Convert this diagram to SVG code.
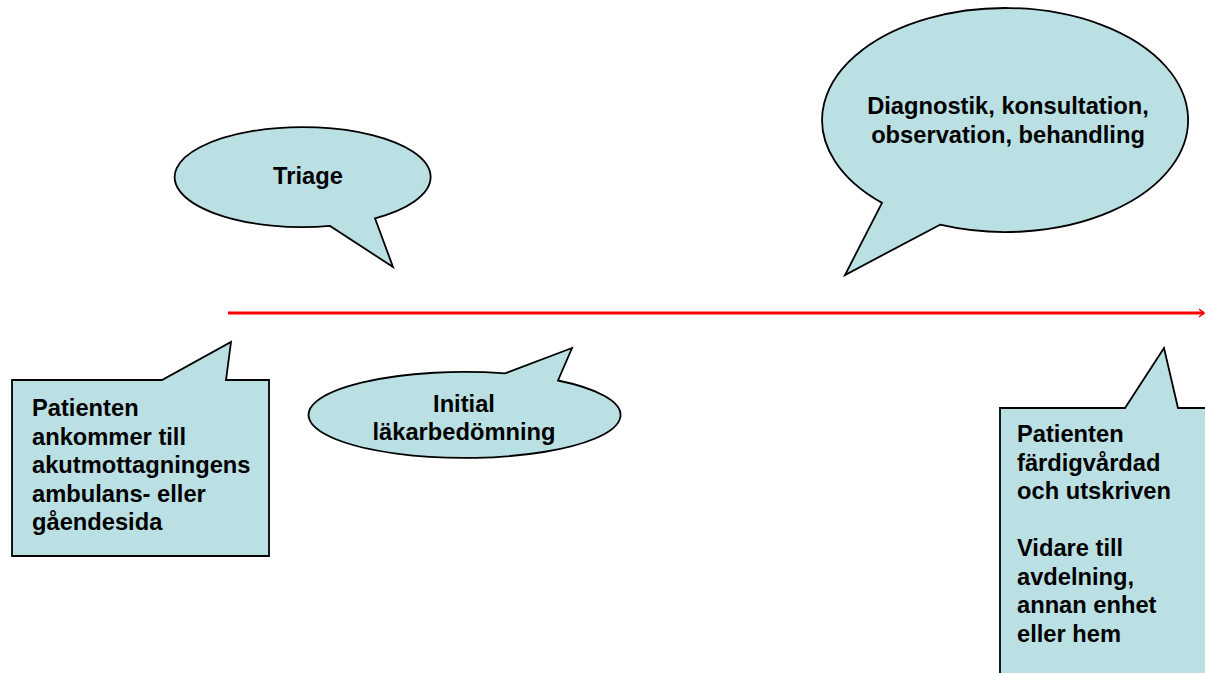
<svg xmlns="http://www.w3.org/2000/svg" width="1205" height="673" viewBox="0 0 1205 673">
<style>
.shape{fill:#BBE0E3;stroke:#000;stroke-width:1.8;stroke-linejoin:miter}
.t{font-family:"Liberation Sans",Arial,sans-serif;font-weight:bold;font-size:23.7px;fill:#000}
.c{text-anchor:middle}
</style>
<rect width="1205" height="673" fill="#fff"/>
<g id="connectors">
<line x1="228" y1="313" x2="1204" y2="313" stroke="#f00" stroke-width="3"/>
<polyline points="1199,309 1204,313 1199,317" fill="none" stroke="#f00" stroke-width="1.5"/>
</g>
<g id="triage">
<path class="shape" d="M375,218.3 L393,267 L330,225.9 A128,50 0 1 1 375,218.3 Z"/>
<text class="t c" x="308" y="184">Triage</text>
</g>
<g id="diagnostik">
<path class="shape" d="M940,224.7 L845,275 L882,202.9 A183,112 0 1 1 940,224.7 Z"/>
<text class="t c" x="1008" y="114">Diagnostik, konsultation,</text>
<text class="t c" x="1008" y="143">observation, behandling</text>
</g>
<g id="initial">
<path class="shape" d="M505,373.4 L572,348 L558,380.5 A156,43 0 1 1 505,373.4 Z"/>
<text class="t c" x="464" y="412">Initial</text>
<text class="t c" x="464" y="440">läkarbedömning</text>
</g>
<g id="ankomst">
<path class="shape" d="M12,380 H162 L231,342 L226,380 H269 V556 H12 Z"/>
<text class="t" x="32" y="416">Patienten</text>
<text class="t" x="32" y="444.5">ankommer till</text>
<text class="t" x="32" y="473">akutmottagningens</text>
<text class="t" x="32" y="501.5">ambulans- eller</text>
<text class="t" x="32" y="530">gåendesida</text>
</g>
<g id="utskriven">
<path class="shape" d="M1000,408 H1125 L1164,348 L1178,408 H1212 V680 H1000 Z"/>
<text class="t" x="1017" y="442">Patienten</text>
<text class="t" x="1017" y="470.5">färdigvårdad</text>
<text class="t" x="1017" y="499">och utskriven</text>
<text class="t" x="1017" y="556">Vidare till</text>
<text class="t" x="1017" y="584.5">avdelning,</text>
<text class="t" x="1017" y="613">annan enhet</text>
<text class="t" x="1017" y="641.5">eller hem</text>
</g>
</svg>
